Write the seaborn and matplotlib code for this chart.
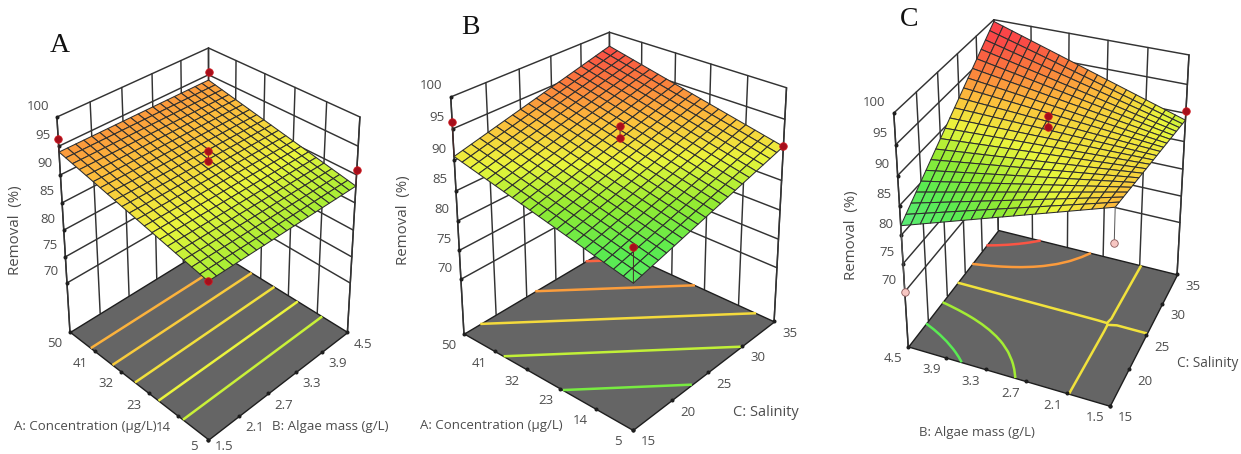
import numpy as np
import matplotlib
matplotlib.use('Agg')
import matplotlib.pyplot as plt
import seaborn as sns
from mpl_toolkits.mplot3d import proj3d

# ---- values -----------------------------------------------------------
conc_ticks = [5, 14, 23, 32, 41, 50]
algae_ticks = [1.5, 2.1, 2.7, 3.3, 3.9, 4.5]
salinity_ticks = [15, 20, 25, 30, 35]
removal_ticks = [70, 75, 80, 85, 90, 95, 100]

# Panel A: removal along the concentration axis (algae mass has no effect)
removal_a_by_conc = [88.0, 88.3, 88.6, 88.9, 89.2, 89.5, 89.8, 90.1, 90.4, 90.7, 91.0,
                     91.3, 91.6, 91.9, 92.2, 92.5, 92.8, 93.1, 93.4, 93.7, 94.0]
# Panel B: removal along the diagonal steps of the mesh (concentration step + salinity step)
removal_b_by_step = [83.6, 83.95, 84.3, 84.65, 85.0, 85.35, 85.7, 86.05, 86.4, 86.75, 87.1,
                     87.45, 87.8, 88.15, 88.5, 88.85, 89.2, 89.55, 89.9, 90.25, 90.6,
                     90.95, 91.3, 91.65, 92.0, 92.35, 92.7, 93.05, 93.4, 93.75, 94.1,
                     94.45, 94.8, 95.15, 95.5, 95.85, 96.2, 96.55, 96.9, 97.25, 97.6]
# Panel C: one row per algae-mass step, one column per salinity step
removal_c = [
 [93.1,92.885,92.67,92.455,92.24,92.025,91.81,91.595,91.38,91.165,90.95,90.735,90.52,90.305,90.09,89.875,89.66,89.445,89.23,89.015,88.8],
 [92.525,92.366,92.207,92.048,91.889,91.73,91.571,91.412,91.253,91.094,90.935,90.776,90.617,90.458,90.299,90.14,89.981,89.822,89.663,89.504,89.345],
 [91.95,91.847,91.744,91.641,91.538,91.435,91.332,91.229,91.126,91.023,90.92,90.817,90.714,90.611,90.508,90.405,90.302,90.199,90.096,89.993,89.89],
 [91.375,91.328,91.281,91.234,91.187,91.14,91.093,91.046,90.999,90.952,90.905,90.858,90.811,90.764,90.717,90.67,90.623,90.576,90.529,90.482,90.435],
 [90.8,90.809,90.818,90.827,90.836,90.845,90.854,90.863,90.872,90.881,90.89,90.899,90.908,90.917,90.926,90.935,90.944,90.953,90.962,90.971,90.98],
 [90.225,90.29,90.355,90.42,90.485,90.55,90.615,90.68,90.745,90.81,90.875,90.94,91.005,91.07,91.135,91.2,91.265,91.33,91.395,91.46,91.525],
 [89.65,89.771,89.892,90.013,90.134,90.255,90.376,90.497,90.618,90.739,90.86,90.981,91.102,91.223,91.344,91.465,91.586,91.707,91.828,91.949,92.07],
 [89.075,89.252,89.429,89.606,89.783,89.96,90.137,90.314,90.491,90.668,90.845,91.022,91.199,91.376,91.553,91.73,91.907,92.084,92.261,92.438,92.615],
 [88.5,88.733,88.966,89.199,89.432,89.665,89.898,90.131,90.364,90.597,90.83,91.063,91.296,91.529,91.762,91.995,92.228,92.461,92.694,92.927,93.16],
 [87.925,88.214,88.503,88.792,89.081,89.37,89.659,89.948,90.237,90.526,90.815,91.104,91.393,91.682,91.971,92.26,92.549,92.838,93.127,93.416,93.705],
 [87.35,87.695,88.04,88.385,88.73,89.075,89.42,89.765,90.11,90.455,90.8,91.145,91.49,91.835,92.18,92.525,92.87,93.215,93.56,93.905,94.25],
 [86.775,87.176,87.577,87.978,88.379,88.78,89.181,89.582,89.983,90.384,90.785,91.186,91.587,91.988,92.389,92.79,93.191,93.592,93.993,94.394,94.795],
 [86.2,86.657,87.114,87.571,88.028,88.485,88.942,89.399,89.856,90.313,90.77,91.227,91.684,92.141,92.598,93.055,93.512,93.969,94.426,94.883,95.34],
 [85.625,86.138,86.651,87.164,87.677,88.19,88.703,89.216,89.729,90.242,90.755,91.268,91.781,92.294,92.807,93.32,93.833,94.346,94.859,95.372,95.885],
 [85.05,85.619,86.188,86.757,87.326,87.895,88.464,89.033,89.602,90.171,90.74,91.309,91.878,92.447,93.016,93.585,94.154,94.723,95.292,95.861,96.43],
 [84.475,85.1,85.725,86.35,86.975,87.6,88.225,88.85,89.475,90.1,90.725,91.35,91.975,92.6,93.225,93.85,94.475,95.1,95.725,96.35,96.975],
 [83.9,84.581,85.262,85.943,86.624,87.305,87.986,88.667,89.348,90.029,90.71,91.391,92.072,92.753,93.434,94.115,94.796,95.477,96.158,96.839,97.52],
 [83.325,84.062,84.799,85.536,86.273,87.01,87.747,88.484,89.221,89.958,90.695,91.432,92.169,92.906,93.643,94.38,95.117,95.854,96.591,97.328,98.065],
 [82.75,83.543,84.336,85.129,85.922,86.715,87.508,88.301,89.094,89.887,90.68,91.473,92.266,93.059,93.852,94.645,95.438,96.231,97.024,97.817,98.61],
 [82.175,83.024,83.873,84.722,85.571,86.42,87.269,88.118,88.967,89.816,90.665,91.514,92.363,93.212,94.061,94.91,95.759,96.608,97.457,98.306,99.155],
 [81.6,82.505,83.41,84.315,85.22,86.125,87.03,87.935,88.84,89.745,90.65,91.555,92.46,93.365,94.27,95.175,96.08,96.985,97.89,98.795,99.7],
]
levels_a = [89, 90, 91, 92, 93]
levels_b = [86.3, 88.8, 91.3, 93.8, 96.3]
levels_c = [84.8, 87.9, 90.892, 93.9, 97.0]

# Design points: x, y, measured removal, value where the stem ends
points_a_x = [1.5, 4.5, 4.5, 1.5, 3.0, 3.0]
points_a_y = [50, 50, 5, 5, 27.5, 27.5]
points_a_z = [96.3, 95.5, 90.8, 88.0, 94.2, 92.4]
points_a_s = [94.0, 94.0, 88.0, 88.0, 92.4, 92.4]
points_b_x = [15, 35, 15, 25, 25]
points_b_y = [50, 5, 5, 27.5, 27.5]
points_b_z = [96.1, 90.6, 89.0, 94.7, 92.7]
points_b_s = [90.6, 90.6, 83.6, 92.7, 92.7]
points_c_x = [15, 35, 15, 25, 25]
points_c_y = [4.5, 1.5, 1.5, 3.0, 3.0]
points_c_z = [70.0, 90.4, 87.5, 94.5, 92.7]
points_c_s = [81.6, 88.8, 93.1, 92.7, 92.7]

# ---- theme and colours -------------------------------------------------
sns.set_theme(style='white')
plt.rcParams['font.family'] = ['Open Sans', 'DejaVu Sans']

W, H = 1241, 454
fig = plt.figure(figsize=(W / 100, H / 100), dpi=100)
fig.patch.set_facecolor('white')

surface_cmap = sns.blend_palette(
    ['#5aeba0', '#5aeb6e', '#5aeb50', '#94eb32', '#ebf53c',
     '#fcc03c', '#fa7d3c', '#fa4b46', '#fa3c4b'], as_cmap=True)
Z_LOW, Z_HIGH = 80, 100
LINE = '#333333'
TEXT = '#4d4d4d'
K = 5.40541
VIEW_OFFSET = 0.0025


def draw_panel(letter, letter_xy, x, y, z, levels, xt, yt, xlab, ylab, pts,
               view, box, zf, sx, sy, cx, cy, lab_pos, xlab_size, front_dy=-12):
    x = np.asarray(x, float)
    y = np.asarray(y, float)
    Sx, Sy = sx / K, sy / K
    acx = cx - VIEW_OFFSET * sx
    acy = cy + VIEW_OFFSET * sy
    ax = fig.add_axes([(acx - Sx / 2) / W, 1 - (acy + Sy / 2) / H, Sx / W, Sy / H],
                      projection='3d', computed_zorder=False)
    # the reference panels are stretched unevenly, so keep the non-square box
    ax.apply_aspect = lambda position=None: None
    ax.set_axis_off()
    ax.patch.set_visible(False)
    ax.view_init(elev=view[0], azim=view[1], roll=view[2])
    ax.set_proj_type('persp', focal_length=view[3])
    ax.set_box_aspect(box)
    xmin, xmax, ymin, ymax = x[0], x[-1], y[0], y[-1]
    lims = lambda: (ax.set_xlim(xmin, xmax), ax.set_ylim(ymin, ymax), ax.set_zlim(zf, 100))
    lims()

    # walls
    wk = dict(color=LINE, lw=1.05, zorder=1, solid_capstyle='round')
    for zv in removal_ticks:
        ax.plot([xmin, xmax], [ymax, ymax], [zv, zv], **wk)
        ax.plot([xmax, xmax], [ymax, ymin], [zv, zv], **wk)
    for xv in np.linspace(xmin, xmax, 6):
        ax.plot([xv, xv], [ymax, ymax], [zf, 100], **wk)
    for yv in np.linspace(ymin, ymax, 6):
        ax.plot([xmax, xmax], [yv, yv], [zf, 100], **wk)

    # floor and contours
    fx, fy = np.meshgrid([xmin, xmax], [ymin, ymax])
    ax.plot_surface(fx, fy, np.full_like(fx, zf), color='#656565', shade=False,
                    edgecolor='#1e1e1e', linewidth=1.0, zorder=2)
    X, Y = np.meshgrid(x, y)
    cs = ax.contour(X, Y, z, levels=levels, zdir='z', offset=zf, cmap=surface_cmap,
                    vmin=Z_LOW, vmax=Z_HIGH, linewidths=1.8, zorder=3)
    cs.set_zorder(3)

    # response surface
    ax.plot_surface(X, Y, z, rstride=1, cstride=1, cmap=surface_cmap, vmin=Z_LOW, vmax=Z_HIGH,
                    shade=False, edgecolor='#2e2e2e', linewidth=0.75, zorder=4,
                    antialiased=True)

    # front verticals of the box & tick dots
    ax.plot([xmin, xmin], [ymax, ymax], [zf, 100], color=LINE, lw=1.05, zorder=5)
    ax.plot([xmax, xmax], [ymin, ymin], [zf, 100], color=LINE, lw=1.05, zorder=5)
    tick = dict(ls='none', marker='o', ms=1.9, color='#1e1e1e', zorder=5)
    ax.plot(np.full(len(removal_ticks), xmin), np.full(len(removal_ticks), ymax), removal_ticks, **tick)
    ax.plot(np.array(xt, float), np.full(len(xt), ymin), np.full(len(xt), zf), **tick)
    ax.plot(np.full(len(yt), xmin), np.array(yt, float), np.full(len(yt), zf), **tick)

    # design points with their stems to the surface
    for px, py, pz, ps in zip(*pts):
        above = pz >= ps
        ax.plot([px, px], [py, py], [ps, pz], color='#4a2a2a' if above else '#555555',
                lw=0.7, zorder=6)
        ax.plot([px], [py], [pz], ls='none', marker='o', ms=5.4, zorder=7,
                mfc='#a50f1c' if above else '#f7c6c2',
                mec='#d01a20' if above else '#8a5a5a', mew=0.6)

    # tick labels
    M = ax.get_proj()

    def label(xv, yv, zv, text, dx, dy, ha='center'):
        a, b, _ = proj3d.proj_transform(xv, yv, zv, M)
        ax.annotate(text, xy=(a, b), xytext=(dx, dy), textcoords='offset pixels',
                    ha=ha, va='center', fontsize=9.5, color=TEXT, annotation_clip=False)

    for zv in removal_ticks:
        label(xmin, ymax, zv, str(zv), -8, 11, 'right')
    for i, yv in enumerate(yt):
        label(xmin, yv, zf, str(yv), -15, front_dy if i == 0 else -12)
    for i, xv in enumerate(xt):
        label(xv, ymin, zf, str(xv), 16, front_dy if i == 0 else -12)
    lims()

    # axis titles and panel letter
    tk = dict(ha='center', va='center', color=TEXT)
    fig.text(lab_pos[0][0] / W, 1 - lab_pos[0][1] / H, 'Removal  (%)', rotation=90, fontsize=10.8, **tk)
    fig.text(lab_pos[1][0] / W, 1 - lab_pos[1][1] / H, ylab, fontsize=9.5, **tk)
    fig.text(lab_pos[2][0] / W, 1 - lab_pos[2][1] / H, xlab, fontsize=xlab_size, **tk)
    fig.text(letter_xy[0] / W, 1 - letter_xy[1] / H, letter, ha='center', va='center',
             fontsize=20, color='#111111', family='Liberation Serif')


n_steps = len(removal_a_by_conc)
grid_a = np.tile(np.asarray(removal_a_by_conc)[:, None], (1, n_steps))
step_idx = np.add.outer(np.arange(n_steps), np.arange(n_steps))
grid_b = np.asarray(removal_b_by_step)[step_idx]
grid_c = np.asarray(removal_c)

conc_axis = np.linspace(conc_ticks[0], conc_ticks[-1], n_steps)
algae_axis = np.linspace(algae_ticks[0], algae_ticks[-1], n_steps)
sal_axis = np.linspace(salinity_ticks[0], salinity_ticks[-1], n_steps)

draw_panel('A', (60, 45), algae_axis, conc_axis, grid_a, levels_a, algae_ticks, conc_ticks,
           'B: Algae mass (g/L)', 'A: Concentration (µg/L)',
           (points_a_x, points_a_y, points_a_z, points_a_s),
           (28.828, -134.830, 0.102, 0.585), (1, 1.0019, 0.9566), 60.34, 1834.65, 2295.45, 208.48, 229.22,
           [(15.7, 230), (85.5, 426.7), (330, 426.7)], 9.6, front_dy=-7)
draw_panel('B', (470, 28), sal_axis, conc_axis, grid_b, levels_b, salinity_ticks, conc_ticks,
           'C: Salinity', 'A: Concentration (µg/L)',
           (points_b_x, points_b_y, points_b_z, points_b_s),
           (25.118, -138.906, 0.050, 0.577), (1, 1.0057, 0.9722), 60.32, 2055.72, 2406.78, 620.13, 214.54,
           [(403.3, 220), (491.5, 426), (765.7, 413)], 10.5)
draw_panel('C', (909, 19), sal_axis, algae_axis, grid_c, levels_c, salinity_ticks, algae_ticks,
           'C: Salinity', 'B: Algae mass (g/L)',
           (points_c_x, points_c_y, points_c_z, points_c_s),
           (28.892, -157.391, 0.023, 0.582), (1, 0.9971, 1.0246), 59.86, 1970.72, 2304.58, 1048.29, 201.02,
           [(851.7, 235), (976.7, 432.7), (1207.3, 363.3)], 9.8)

fig.savefig('out.png', dpi=100, facecolor='white')
